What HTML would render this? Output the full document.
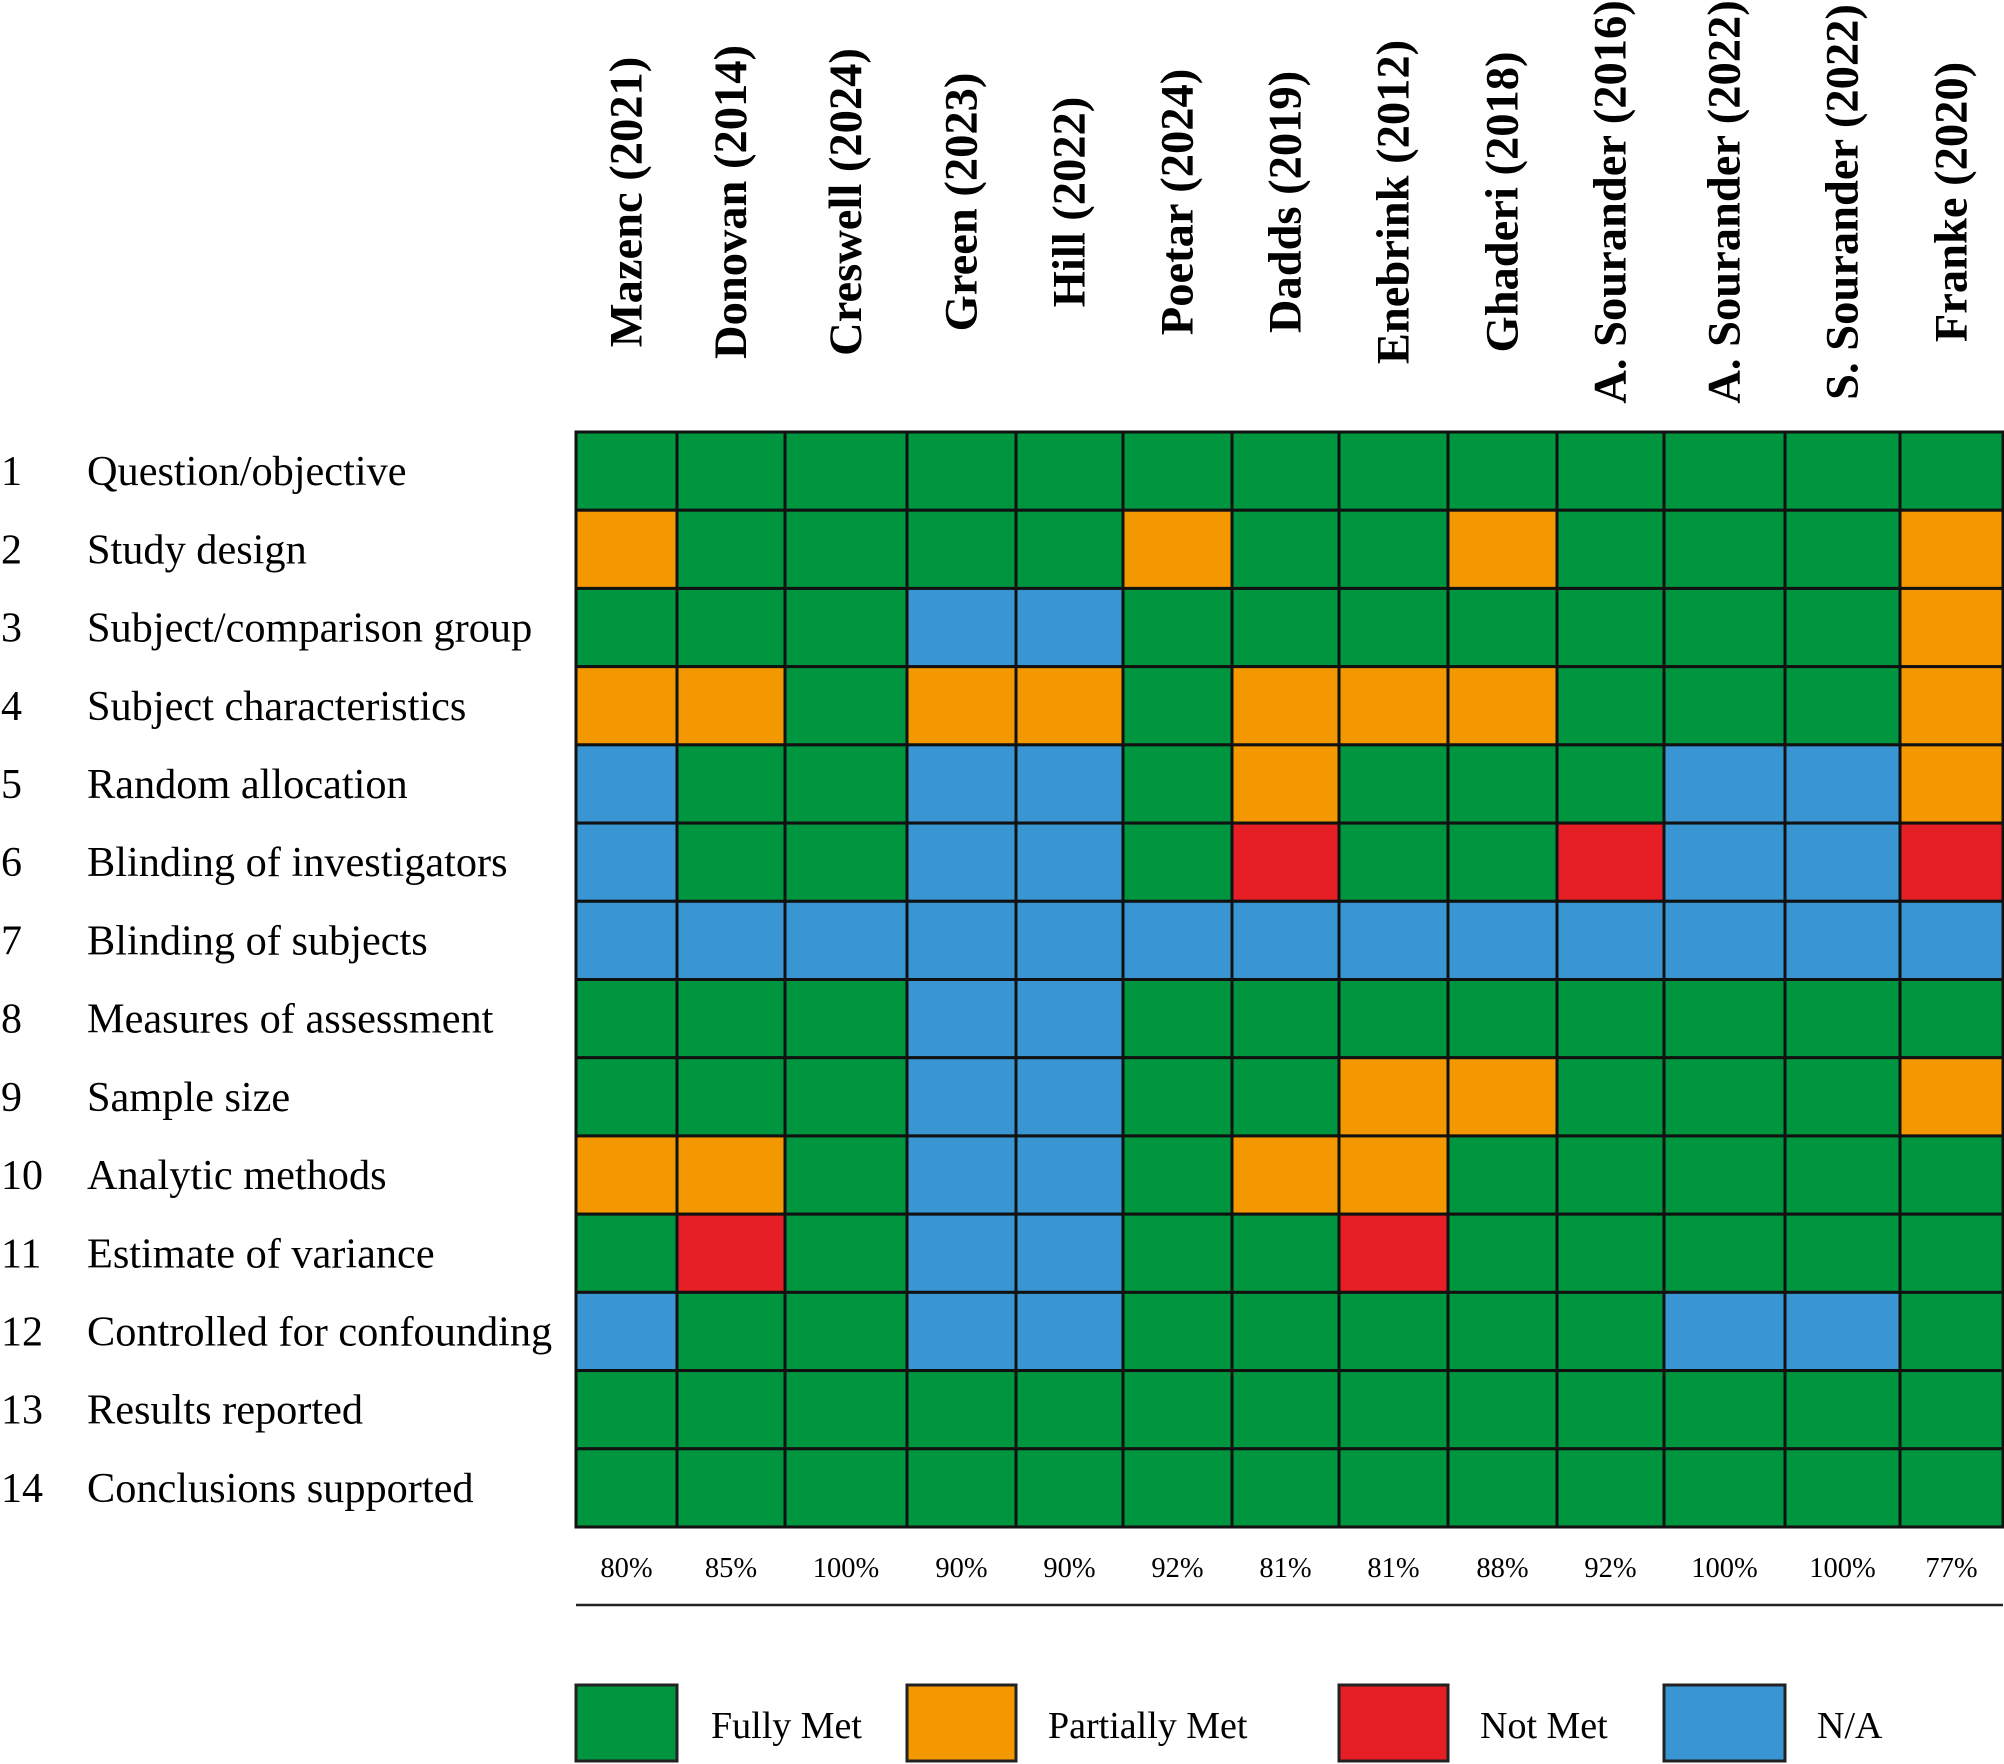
<!DOCTYPE html>
<html><head><meta charset="utf-8"><style>
html,body{margin:0;padding:0;background:#fff;}
svg{display:block;font-family:"Liberation Serif",serif;}
</style></head><body>
<svg id="chart" width="2004" height="1764" viewBox="0 0 2004 1764"></svg>
<script>
const studies = ["Mazenc (2021)","Donovan (2014)","Creswell (2024)","Green (2023)","Hill (2022)","Poetar (2024)","Dadds (2019)","Enebrink (2012)","Ghaderi (2018)","A. Sourander (2016)","A. Sourander (2022)","S. Sourander (2022)","Franke (2020)"];
const criteria = ["Question/objective","Study design","Subject/comparison group","Subject characteristics","Random allocation","Blinding of investigators","Blinding of subjects","Measures of assessment","Sample size","Analytic methods","Estimate of variance","Controlled for confounding","Results reported","Conclusions supported"];
const ratings = [
"GGGGGGGGGGGGG",
"OGGGGOGGOGGGO",
"GGGBBGGGGGGGO",
"OOGOOGOOOGGGO",
"BGGBBGOGGGBBO",
"BGGBBGRGGRBBR",
"BBBBBBBBBBBBB",
"GGGBBGGGGGGGG",
"GGGBBGGOOGGGO",
"OOGBBGOOGGGGG",
"GRGBBGGRGGGGG",
"BGGBBGGGGGBBG",
"GGGGGGGGGGGGG",
"GGGGGGGGGGGGG"];
const scores = ["80%","85%","100%","90%","90%","92%","81%","81%","88%","92%","100%","100%","77%"];
const legendKeys = ["G","O","R","B"];
const legendLabels = ["Fully Met","Partially Met","Not Met","N/A"];

const colors = {G:"#009640",O:"#F39800",R:"#E61E25",B:"#3A96D2"};
const colEdges = [576,677,785,907,1016,1123,1232,1339,1448,1557,1664,1785,1900,2003];
const gridTop = 432, rowH = (1527-432)/14;
const svg = document.getElementById('chart');
const NS = "http://www.w3.org/2000/svg";
function mk(tag, attrs, parent){const e=document.createElementNS(NS,tag);for(const k in attrs)e.setAttribute(k,attrs[k]);(parent||svg).appendChild(e);return e;}
function xL(i){return colEdges[i];}
function xW(i){return colEdges[i+1]-colEdges[i];}
function yT(r){return gridTop + r*rowH;}

studies.forEach((s,i)=>{
  const cx = xL(i)+xW(i)/2+15;
  const t = mk('text',{x:0,y:0,transform:`translate(${cx},202) rotate(-90)`,'text-anchor':'middle','font-size':46.5,'font-weight':'bold',fill:'#000'});
  
  
  t.textContent = s;
});
criteria.forEach((c,r)=>{
  const cy = yT(r)+rowH/2+14;
  const n = mk('text',{x:1,y:cy,'font-size':42,fill:'#000'});
  
  
  n.textContent = String(r+1);
  const t = mk('text',{x:87,y:cy,'font-size':42.3,fill:'#000'});
  
  
  t.textContent = c;
  for(let i=0;i<studies.length;i++){
    const rect = mk('rect',{x:xL(i),y:yT(r),width:xW(i),height:rowH,fill:colors[ratings[r][i]],stroke:'#111','stroke-width':3});
    
    
  }
});
scores.forEach((s,i)=>{
  const t = mk('text',{x:xL(i)+xW(i)/2,y:1577,'text-anchor':'middle','font-size':28.5,fill:'#000'});
  
  
  t.textContent = s;
});
const ln = mk('line',{x1:576,x2:2003,y1:1605,y2:1605,stroke:'#222','stroke-width':2.5});


const legBoxX = [576,907,1339,1664], legBoxW=[101,109,109,121], legTextX=[711,1048,1480,1817];
legendKeys.forEach((k,i)=>{
  const r = mk('rect',{x:legBoxX[i],y:1685,width:legBoxW[i],height:76,fill:colors[k],stroke:'#222','stroke-width':3});
  
  
  const t = mk('text',{x:legTextX[i],y:1738,'font-size':38,fill:'#000'});
  
  
  t.textContent = legendLabels[i];
});
</script>
</body></html>
